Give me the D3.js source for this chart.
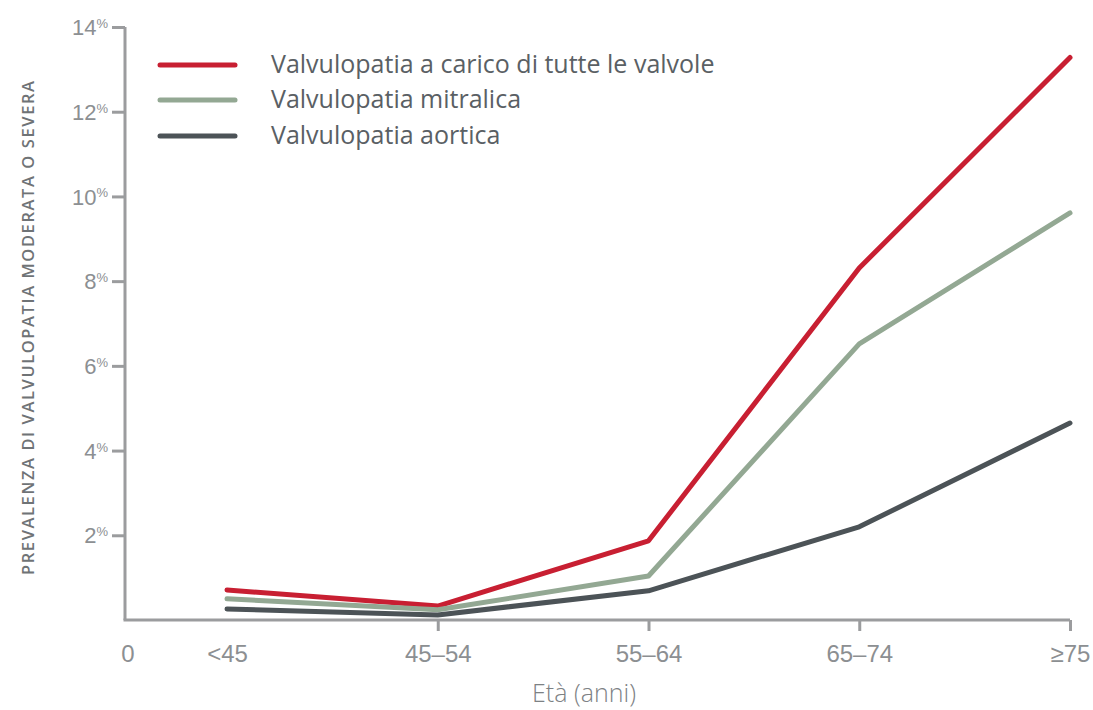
<!DOCTYPE html>
<html>
<head>
<meta charset="utf-8">
<script src="https://cdn.jsdelivr.net/npm/d3@7"></script>
<style>
  body { margin: 0; background: #fff; }
  svg { display: block; font-family: "Open Sans", "Noto Sans", sans-serif; }
</style>
</head>
<body>
<div id="chart"></div>
<script>
// data
const categories = ["<45", "45–54", "55–64", "65–74", "≥75"];
const allValves = [0.71, 0.33, 1.87, 8.31, 13.28];
const mitral = [0.50, 0.24, 1.04, 6.52, 9.61];
const aortic = [0.26, 0.12, 0.69, 2.20, 4.65];
const seriesNames = ["Valvulopatia a carico di tutte le valvole", "Valvulopatia mitralica", "Valvulopatia aortica"];
const yTicks = [2, 4, 6, 8, 10, 12, 14];

const colors = ["#c81f32", "#93a893", "#4c5357"];
const series = [allValves, mitral, aortic];

const width = 1093, height = 710;
const axisColor = "#9b9c9e";
const textColor = "#8c8f92";

const svg = d3.select("#chart").append("svg")
	.attr("width", width)
	.attr("height", height);

const x = d3.scalePoint().domain(categories).range([227, 1070]);
const y = d3.scaleLinear().domain([0, 14]).range([620, 27]);
const axisX0 = 125;

// y axis
const yAxis = svg.append("g")
	.attr("transform", `translate(${axisX0},0)`)
	.call(d3.axisLeft(y).tickValues(yTicks).tickSize(13).tickSizeOuter(0).tickFormat(d => d));
yAxis.select(".domain").attr("stroke", axisColor).attr("stroke-width", 3)
	.attr("d", `M0,${y(14)}V${y(0)}`);
yAxis.selectAll(".tick line").attr("stroke", axisColor).attr("stroke-width", 3);
yAxis.selectAll(".tick text").remove();
yAxis.selectAll(".tick").append("text")
	.attr("x", -17)
	.attr("dy", "0.35em")
	.attr("text-anchor", "end")
	.attr("fill", textColor)
	.style("font-size", "22px")
	.style("font-weight", 300)
	.each(function (d) {
		const t = d3.select(this);
		t.append("tspan").text(d);
		t.append("tspan").attr("dy", "-0.55em").style("font-size", "13px").text("%");
	});

// x axis
const xAxis = svg.append("g")
	.attr("transform", `translate(0,${y(0)})`)
	.call(d3.axisBottom(x).tickSize(11).tickSizeOuter(0).tickPadding(14));
xAxis.select(".domain").attr("stroke", axisColor).attr("stroke-width", 3)
	.attr("d", `M${axisX0 - 1.5},0H${x(categories[categories.length - 1])}`);
xAxis.selectAll(".tick line").attr("stroke", axisColor).attr("stroke-width", 3)
	.filter((d, i) => i === 0).remove();
xAxis.selectAll(".tick text")
	.attr("fill", textColor)
	.style("font-size", "24px")
	.style("font-weight", 300);
xAxis.append("text")
	.attr("x", axisX0 + 3)
	.attr("y", 25)
	.attr("dy", "0.71em")
	.attr("text-anchor", "middle")
	.attr("fill", textColor)
	.style("font-size", "24px")
	.style("font-weight", 300)
	.text("0");

// axis titles
svg.append("text")
	.attr("transform", `translate(34,328) rotate(-90)`)
	.attr("text-anchor", "middle")
	.attr("fill", "#6f7376")
	.attr("textLength", 494)
	.attr("lengthAdjust", "spacing")
	.style("font-size", "16.5px")
	.style("font-weight", 600)
	.text("PREVALENZA DI VALVULOPATIA MODERATA O SEVERA");

svg.append("text")
	.attr("x", 584)
	.attr("y", 702)
	.attr("text-anchor", "middle")
	.attr("fill", "#7d8184")
	.style("font-size", "25px")
	.style("font-weight", 300)
	.text("Età (anni)");

// lines
const line = d3.line()
	.x((d, i) => x(categories[i]))
	.y(d => y(d));

svg.selectAll(".series")
	.data(series)
	.join("path")
	.attr("class", "series")
	.attr("fill", "none")
	.attr("stroke", (d, i) => colors[i])
	.attr("stroke-width", 5)
	.attr("stroke-linecap", "round")
	.attr("stroke-linejoin", "round")
	.attr("d", line);

// legend
const legendY = [65, 100, 136];
const legend = svg.selectAll(".legend")
	.data(seriesNames)
	.join("g")
	.attr("class", "legend")
	.attr("transform", (d, i) => `translate(160,${legendY[i]})`);
legend.append("line")
	.attr("x1", 0).attr("x2", 75)
	.attr("stroke", (d, i) => colors[i])
	.attr("stroke-width", 5)
	.attr("stroke-linecap", "round");
legend.append("text")
	.attr("x", 111)
	.attr("dy", "0.33em")
	.attr("fill", "#5a6064")
	.style("font-size", "25px")
	.text(d => d);
</script>
</body>
</html>
